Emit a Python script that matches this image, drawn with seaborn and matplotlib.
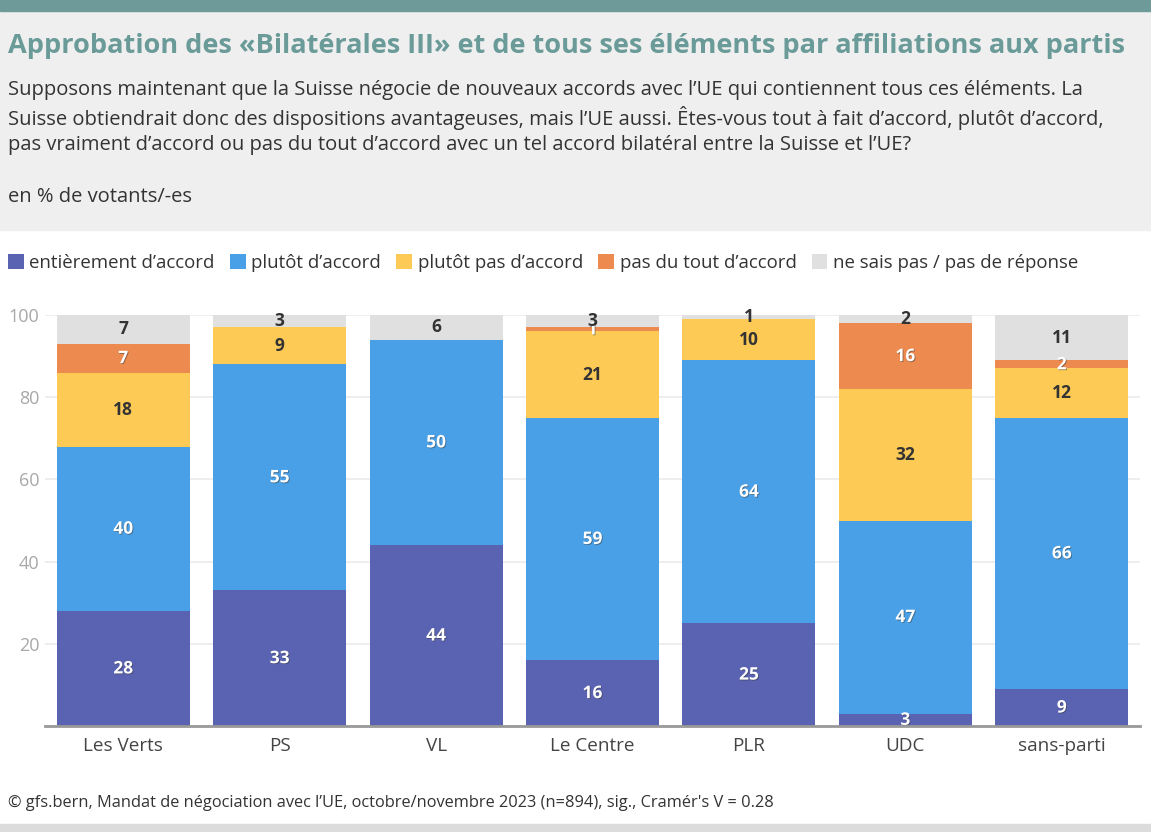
import seaborn as sns
import matplotlib
matplotlib.use("Agg")
import matplotlib.pyplot as plt
import matplotlib.patheffects as pe
from matplotlib.patches import Rectangle, Patch
import pandas as pd

parties = ["Les Verts", "PS", "VL", "Le Centre", "PLR", "UDC", "sans-parti"]
entierement = [28, 33, 44, 16, 25, 3, 9]
plutot = [40, 55, 50, 59, 64, 47, 66]
plutot_pas = [18, 9, 0, 21, 10, 32, 12]
pas_du_tout = [7, 0, 0, 1, 0, 16, 2]
ne_sais_pas = [7, 3, 6, 3, 1, 2, 11]

series = ["entièrement d’accord", "plutôt d’accord", "plutôt pas d’accord",
          "pas du tout d’accord", "ne sais pas / pas de réponse"]
colors = ["#5a63b1", "#49a0e6", "#fdca55", "#ec8a4f", "#e0e0e0"]
dark_label = [False, False, True, False, True]

sns.set_style("white")
plt.rcParams["font.family"] = ["Open Sans", "DejaVu Sans"]

df = pd.DataFrame({"party": parties, series[0]: entierement, series[1]: plutot,
                   series[2]: plutot_pas, series[3]: pas_du_tout, series[4]: ne_sais_pas})
cum = df[series].cumsum(axis=1)

fig = plt.figure(figsize=(11.51, 8.32), dpi=100)

# header band + stripes
fig.patches.append(Rectangle((0, 1 - 230 / 832), 1, 218 / 832, transform=fig.transFigure,
                             color="#efefef", zorder=0))
fig.patches.append(Rectangle((0, 1 - 11 / 832), 1, 11 / 832, transform=fig.transFigure,
                             color="#6e9b99", zorder=0))
fig.patches.append(Rectangle((0, 0), 1, 8 / 832, transform=fig.transFigure,
                             color="#dcdcdc", zorder=0))

fig.text(8 / 1151, 1 - 46 / 832, "Approbation des «Bilatérales III» et de tous ses éléments par affiliations aux partis",
         fontsize=19.5, fontweight="bold", color="#6a9b98", va="center", ha="left")
sub = ("Supposons maintenant que la Suisse négocie de nouveaux accords avec l’UE qui contiennent tous ces éléments. La\n"
       "Suisse obtiendrait donc des dispositions avantageuses, mais l’UE aussi. Êtes-vous tout à fait d’accord, plutôt d’accord,\n"
       "pas vraiment d’accord ou pas du tout d’accord avec un tel accord bilatéral entre la Suisse et l’UE?")
fig.text(8 / 1151, 1 - 80 / 832, sub, fontsize=14.5, color="#333333", va="top", ha="left", linespacing=1.32)
fig.text(8 / 1151, 1 - 197 / 832, "en % de votants/-es", fontsize=14.5, color="#333333", va="center", ha="left")

ax = fig.add_axes([45 / 1151, 106 / 832, 1095 / 1151, 411 / 832])

# stacked bars: draw cumulative totals from the top series down
for i in range(len(series) - 1, -1, -1):
    sns.barplot(x=df["party"], y=cum[series[i]], color=colors[i], width=0.85,
                linewidth=0, saturation=1, ax=ax, zorder=3)

for i, s in enumerate(series):
    vals = df[s].values
    tops = cum[s].values
    for j, v in enumerate(vals):
        if v == 0:
            continue
        yc = tops[j] - v / 2
        if dark_label[i]:
            ax.text(j, yc, str(v), ha="center", va="center", fontsize=12.5, fontweight="bold",
                    color="#333333", zorder=5)
        else:
            ax.text(j, yc, str(v), ha="center", va="center", fontsize=12.5, fontweight="bold",
                    color="white", zorder=5,
                    path_effects=[pe.withSimplePatchShadow(offset=(0.6, -0.6), shadow_rgbFace="#333333", alpha=0.5)])

ax.set_ylim(0, 100)
ax.set_xlim(-0.5, len(parties) - 0.5)
ax.set_yticks([0, 20, 40, 60, 80, 100])
ax.set_yticklabels(["", "20", "40", "60", "80", "100"])
ax.yaxis.grid(True, color="#ebebeb", linewidth=1.2, zorder=0)
ax.set_axisbelow(True)
ax.set_xlabel("")
ax.set_ylabel("")
for side in ["top", "right", "left"]:
    ax.spines[side].set_visible(False)
ax.spines["bottom"].set_color("#999999")
ax.spines["bottom"].set_linewidth(2)
ax.spines["bottom"].set_zorder(6)
ax.tick_params(axis="y", length=0, labelsize=13, labelcolor="#a8a8a8", pad=4)
ax.tick_params(axis="x", length=0, labelsize=13.6, labelcolor="#444444", pad=8)

handles = [Patch(facecolor=c, edgecolor="none") for c in colors]
fig.legend(handles, series, loc="center left", bbox_to_anchor=(-9 / 1151, 1 - 263 / 832), ncol=5,
           frameon=False, fontsize=13.4, handlelength=0.85, handleheight=0.85, handletextpad=0.3,
           columnspacing=0.82, labelcolor="#333333")

fig.text(8 / 1151, 1 - 803 / 832,
         "© gfs.bern, Mandat de négociation avec l’UE, octobre/novembre 2023 (n=894), sig., Cramér's V = 0.28",
         fontsize=11.8, color="#333333", va="center", ha="left")

fig.savefig("out.png", dpi=100)
